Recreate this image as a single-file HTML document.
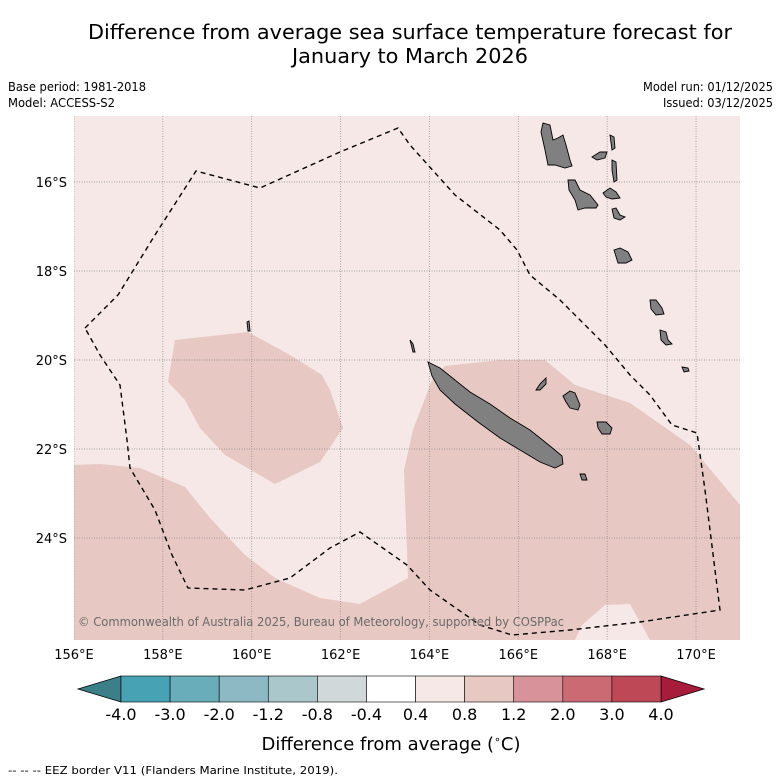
<!DOCTYPE html>
<html><head><meta charset="utf-8"><style>
html,body{margin:0;padding:0;background:#fff}
svg{display:block;font-family:"DejaVu Sans","Liberation Sans",sans-serif}
</style></head><body>
<svg id="s" width="781" height="781" viewBox="0 0 781 781">
<text x="410" y="39" font-size="20" text-anchor="middle" textLength="644" lengthAdjust="spacingAndGlyphs">Difference from average sea surface temperature forecast for</text>
<text x="410" y="63" font-size="20" text-anchor="middle" textLength="236" lengthAdjust="spacingAndGlyphs">January to March 2026</text>
<text x="8" y="91" font-size="12" textLength="138" lengthAdjust="spacingAndGlyphs">Base period: 1981-2018</text>
<text x="8" y="107" font-size="12" textLength="107" lengthAdjust="spacingAndGlyphs">Model: ACCESS-S2</text>
<text x="773" y="91" font-size="12" text-anchor="end" textLength="130" lengthAdjust="spacingAndGlyphs">Model run: 01/12/2025</text>
<text x="773" y="107" font-size="12" text-anchor="end" textLength="110" lengthAdjust="spacingAndGlyphs">Issued: 03/12/2025</text>
<g id="map"></g>
<g id="cbar"></g>
<text x="391" y="750" font-size="18" text-anchor="middle">Difference from average (<tspan font-size="11" dy="-7">∘</tspan><tspan dy="7">C)</tspan></text>
<text x="8" y="774" font-size="11" textLength="330" lengthAdjust="spacingAndGlyphs">--  --  -- EEZ border V11 (Flanders Marine Institute, 2019).</text>
</svg>
<script>
const lonTicks=[156,158,160,162,164,166,168,170];
const latTicks=[16,18,20,22,24];
const levels=["-4.0","-3.0","-2.0","-1.2","-0.8","-0.4","0.4","0.8","1.2","2.0","3.0","4.0"];
const levelColors=["#47a3b3","#69adba","#8cb9c3","#aac8cc","#d0d8da","#ffffff","#f5e8e6","#e8c8c3","#d8939a","#cc6a74","#bf4857"];
const NS="http://www.w3.org/2000/svg";
const X0=74,X1=740,Y0=116,Y1=640;
function lx(lon){return 74+(lon-156)*44.43;}
function ly(lat){return 182+(lat-16)*44.5;}
function mk(t,a,p){const e=document.createElementNS(NS,t);for(const k in a)e.setAttribute(k,a[k]);p.appendChild(e);return e;}
const map=document.getElementById('map');
const clip=mk('clipPath',{id:'mc'},map);mk('rect',{x:X0,y:Y0,width:X1-X0,height:Y1-Y0},clip);
const g=mk('g',{'clip-path':'url(#mc)'},map);
const bg=mk('rect',{x:X0,y:Y0,width:X1-X0,height:Y1-Y0,fill:'#f5e8e6'},g);


const d1=mk('polygon',{fill:'#e8c8c3',points:"74,465 100,464 140,468 185,487 210,518 245,555 275,578 320,598 360,604 408,578 404,470 413,430 432,380 445,366 500,360 545,360 575,385 630,403 690,445 740,505 740,640 650,640 630,604 605,605 582,625 575,640 74,640"},g);


const d2=mk('polygon',{fill:'#e8c8c3',points:"175,340 248,332 290,355 322,375 330,390 343,428 320,462 275,484 225,455 200,428 185,400 168,382"},g);


lonTicks.forEach(l=>{const x=lx(l);const ln=mk('line',{x1:x,x2:x,y1:Y0,y2:Y1,stroke:'#888','stroke-width':0.7,'stroke-dasharray':'1,1.5'},g);


const t=mk('text',{x:x,y:659,'font-size':13,'text-anchor':'middle'},map);t.textContent=l+'°E';

});
latTicks.forEach(l=>{const y=ly(l);const ln=mk('line',{x1:X0,x2:X1,y1:y,y2:y,stroke:'#888','stroke-width':0.7,'stroke-dasharray':'1,1.5'},g);


const t=mk('text',{x:67,y:y+5,'font-size':13,'text-anchor':'end'},map);t.textContent=l+'°S';

});
const islands=[
"428,362 440,368 455,380 470,392 490,404 510,418 530,430 550,446 562,456 563,464 555,468 540,462 520,450 500,438 478,422 455,404 440,390 432,376",
"543,123 550,125 553,140 558,138 563,135 566,145 570,160 572,166 565,168 555,165 548,165 545,150 541,132",
"568,180 575,180 580,190 590,195 598,205 596,208 585,208 578,210 575,200 569,190",
"592,157 600,152 607,152 605,158 597,160",
"610,135 614,137 615,148 612,150",
"612,160 616,162 617,180 614,182 612,170",
"603,193 610,188 616,192 620,198 612,199 606,197",
"612,209 616,208 620,215 625,217 620,220 614,218",
"614,250 620,248 628,252 632,260 626,263 618,263",
"650,300 656,300 662,308 664,314 656,315 651,309",
"660,330 666,332 668,340 672,344 666,345 661,340",
"682,367 688,368 689,371 684,372",
"563,396 570,391 575,393 580,405 578,410 570,408 566,402",
"597,422 606,422 612,428 610,434 602,434 598,428",
"536,390 540,384 546,378 546,384 540,390",
"580,474 585,474 587,480 582,480",
"247,322 249,321 250,331 248,331",
"410,340 413,344 415,352 413,352"];
islands.forEach(p=>{const e=mk('polygon',{points:p,fill:'#808080',stroke:'#000','stroke-width':0.9},g);

});
const eez=mk('polyline',{fill:'none',stroke:'#000','stroke-width':1.4,'stroke-dasharray':'5,4',points:"85,328 118,295 155,235 196,171 260,188 340,152 398,128 410,145 455,195 500,230 517,250 530,275 560,300 580,320 605,345 630,375 650,395 672,425 697,433 705,490 720,610 640,622 570,630 512,635 480,625 430,590 407,565 360,532 330,548 290,578 245,590 188,588 172,555 155,510 130,468 127,440 120,385 100,355 85,328"},g);


const cp=mk('text',{x:78,y:626,'font-size':12,fill:'#6a6a6a',textLength:486,lengthAdjust:'spacingAndGlyphs'},g);cp.textContent='© Commonwealth of Australia 2025, Bureau of Meteorology, supported by COSPPac';


// colorbar
const cb=document.getElementById('cbar');
const cx0=121,cx1=661,cy0=676,cy1=702,n=levelColors.length,w=(cx1-cx0)/n;
const lt=mk('polygon',{points:`78,689 ${cx0},${cy0} ${cx0},${cy1}`,fill:'#3b8089',stroke:'#000','stroke-width':0.8},cb);


const rt=mk('polygon',{points:`704,689 ${cx1},${cy0} ${cx1},${cy1}`,fill:'#a81c3b',stroke:'#000','stroke-width':0.8},cb);


levelColors.forEach((c,i)=>{const r=mk('rect',{x:cx0+i*w,y:cy0,width:w,height:cy1-cy0,fill:c,stroke:'#000','stroke-width':0.6},cb);

});
levels.forEach((l,i)=>{const t=mk('text',{x:cx0+i*w,y:720,'font-size':16,'text-anchor':'middle'},cb);t.textContent=l;

});
</script>
</body></html>
